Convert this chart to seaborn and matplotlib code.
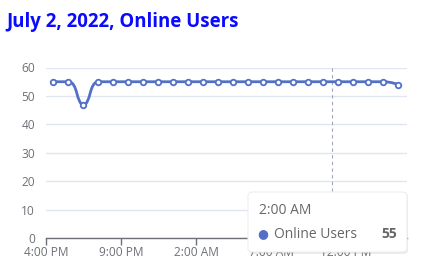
import numpy as np
import pandas as pd
import matplotlib
matplotlib.use("Agg")
import matplotlib.pyplot as plt
import seaborn as sns
from matplotlib.path import Path
from matplotlib.patches import PathPatch, FancyBboxPatch

# ---- data ----
hours = [h + 0.5 for h in range(24)]          # hours after 4:00 PM
users = [55, 55, 47, 55, 55, 55, 55, 55, 55, 55, 55, 55,
         55, 55, 55, 55, 55, 55, 55, 55, 55, 55, 55, 54]
tick_hours = [0, 5, 10, 15, 20]
tick_labels = ["4:00 PM", "9:00 PM", "2:00 AM", "7:00 AM", "12:00 PM"]
y_ticks = [0, 10, 20, 30, 40, 50, 60]
title = "July 2, 2022, Online Users"
series_name = "Online Users"
tooltip_time = "2:00 AM"
tooltip_value = "55"
pointer_hour = 19.1

LINE = "#5470c6"
GRID = "#e0e6f1"
AXIS = "#6e7079"
TXT = "#6e7079"

sns.set_theme(style="white")
plt.rcParams["font.family"] = ["Open Sans", "DejaVu Sans"]

W, H = 445, 280
fig = plt.figure(figsize=(W / 100, H / 100), dpi=100)
ax = fig.add_axes([46 / W, 1 - 238.3 / H, (407 - 46) / W, (238.3 - 67.5) / H])

df = pd.DataFrame({"hour": hours, "users": users})
ax.set_xlim(0, 24.07)
ax.set_ylim(0, 60)


def smooth_path(P, smooth=0.5):
    """ECharts-style smooth bezier with clamped control points (display space)."""
    n = len(P)
    verts, codes = [P[0]], [Path.MOVETO]
    cpx0, cpy0 = P[0]
    for i in range(1, n):
        x, y = P[i]
        px, py = P[i - 1]
        if i < n - 1:
            nx, ny = P[i + 1]
            vx, vy = nx - px, ny - py
            l0 = np.hypot(x - px, y - py)
            l1 = np.hypot(nx - x, ny - y)
            r = l1 / (l1 + l0) if (l0 + l1) else 0.5
            ncx = x + vx * smooth * r
            ncy = y + vy * smooth * r
            ncx = min(ncx, max(nx, x)); ncy = min(ncy, max(ny, y))
            ncx = max(ncx, min(nx, x)); ncy = max(ncy, min(ny, y))
            vx, vy = ncx - x, ncy - y
            c1x = x - vx * l0 / l1 if l1 else x
            c1y = y - vy * l0 / l1 if l1 else y
            c1x = min(c1x, max(px, x)); c1y = min(c1y, max(py, y))
            c1x = max(c1x, min(px, x)); c1y = max(c1y, min(py, y))
            vx, vy = x - c1x, y - c1y
            ncx = x + vx * l1 / l0 if l0 else x
            ncy = y + vy * l1 / l0 if l0 else y
        else:
            c1x, c1y = x, y
            ncx, ncy = x, y
        verts += [(cpx0, cpy0), (c1x, c1y), (x, y)]
        codes += [Path.CURVE4] * 3
        cpx0, cpy0 = ncx, ncy
    return np.array(verts), codes


pts = ax.transData.transform(np.column_stack([hours, users]))
verts, codes = smooth_path(pts)
verts = ax.transData.inverted().transform(verts)
ax.add_patch(PathPatch(Path(verts, codes), facecolor="none", edgecolor=LINE,
                       lw=2, zorder=3, capstyle="round", joinstyle="round"))

sns.scatterplot(data=df, x="hour", y="users", ax=ax, s=16, color="white",
                edgecolor=LINE, linewidth=1.3, zorder=4, legend=False)

# axis pointer
ax.axvline(pointer_hour, color="#a0a6b3", lw=0.8, ls=(0, (3, 3)), zorder=2)

ax.set_yticks(y_ticks)
ax.yaxis.grid(True, color=GRID, lw=1)
ax.xaxis.grid(False)
ax.set_xticks(tick_hours)
ax.set_xticklabels(tick_labels)
ax.set_xlabel(""); ax.set_ylabel("")
for side in ["top", "right", "left"]:
    ax.spines[side].set_visible(False)
ax.spines["bottom"].set_color(AXIS)
ax.spines["bottom"].set_linewidth(1)
ax.spines["bottom"].set_zorder(5)
ax.tick_params(axis="x", colors=AXIS, length=5, width=1, direction="out",
               labelsize=8.6, labelcolor=TXT, pad=0.5, bottom=True)
ax.tick_params(axis="y", length=0, labelsize=8.6, labelcolor=TXT, pad=8)
ax.set_xlim(0, 24.07)
ax.set_ylim(0, 60)

# title
fig.text(6 / W, 1 - 22 / H, title, color="#0a0aff", fontsize=13.4,
         fontweight="bold", va="center", ha="left")

# tooltip
bx0, by0, bx1, by1 = 248, 192, 407, 252
shadow = FancyBboxPatch(((bx0 + 1) / W, 1 - (by1 + 2) / H), (bx1 - bx0) / W,
                        (by1 - by0) / H, boxstyle="round,pad=0,rounding_size=0.012",
                        transform=fig.transFigure, facecolor="#000000", alpha=0.08,
                        edgecolor="none", zorder=9)
fig.patches.append(shadow)
box = FancyBboxPatch((bx0 / W, 1 - by1 / H), (bx1 - bx0) / W, (by1 - by0) / H,
                     boxstyle="round,pad=0,rounding_size=0.012",
                     transform=fig.transFigure, facecolor="white",
                     edgecolor="#eeeeee", lw=0.8, zorder=10)
fig.patches.append(box)
fig.text(259 / W, 1 - 210 / H, tooltip_time, color="#666666", fontsize=10,
         va="center", ha="left", zorder=11)
fig.text(263 / W, 1 - 234 / H, "●", color=LINE, fontsize=9,
         va="center", ha="center", zorder=11)
fig.text(274 / W, 1 - 234 / H, series_name, color="#666666", fontsize=10,
         va="center", ha="left", zorder=11)
fig.text(397 / W, 1 - 234 / H, tooltip_value, color="#666666", fontsize=10,
         fontweight="bold", va="center", ha="right", zorder=11)

fig.savefig("out.png", dpi=100)
